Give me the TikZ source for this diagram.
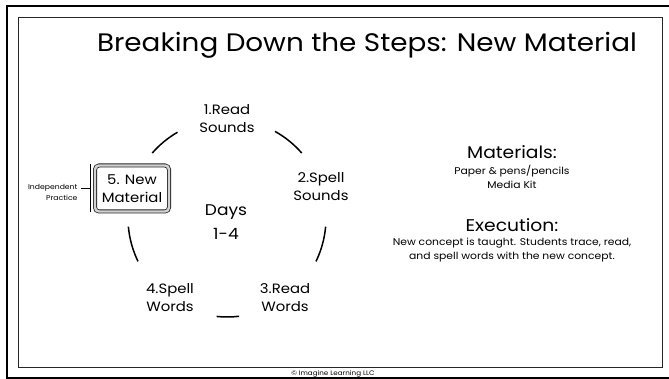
\documentclass[tikz,border=0pt]{standalone}
\usepackage{fontspec}
\setmainfont[FakeStretch=1.1]{Poppins}
\usepackage{xcolor}
\usepackage{tikz}
\usetikzlibrary{calc}

\begin{document}
\begin{tikzpicture}
	[x=1pt, y=1pt,
	 steplabel/.style={align=center, font=\fontsize{13.5}{18}\selectfont},
	 cyclearc/.style={line width=1.5pt},
	 stepbox/.style={draw=black!85, line width=0.8pt, double=gray!35, double distance=2.4pt,
		rounded corners=4pt, fill=white, minimum width=74pt, minimum height=46pt,
		align=center, font=\fontsize{13.5}{18}\selectfont},
	 headline/.style={font=\fontsize{17}{18}\selectfont},
	 smalltext/.style={align=center, font=\fontsize{9.8}{14}\selectfont}]

	\useasboundingbox (0,0) rectangle (669,379);

	% frame
	\draw[line width=2pt] (669,373) -- (7,373) -- (7,1) -- (669,1);
	\draw[line width=1pt, black!85] (18,11) rectangle (662,361);
	\node[font=\fontsize{6.5}{7}\selectfont] (copy) at (333,5) {© Imagine Learning LLC};

	% title
	\node[font=\fontsize{25.3}{28}\selectfont] (title) at (367,334) {Breaking Down the Steps: New Material};

	% cycle
	\coordinate (hub) at (227,161);
	\node[steplabel] (s1) at (227,260) {1.Read\\Sounds};
	\node[steplabel] (s2) at (321,192) {2.Spell\\Sounds};
	\node[steplabel] (s3) at (285,81) {3.Read\\Words};
	\node[steplabel] (s4) at (170,81) {4.Spell\\Words};
	\node[stepbox] (s5) at (132,190.5) {5. New\\Material};
	\node[align=center, font=\fontsize{15.5}{24}\selectfont] (days) at (226,157) {Days\\1-4};

	\foreach \s/\e in {120/139, 41/61, -26/-5, 264/277, 185/206}
		\draw[cyclearc] (hub) ++(\s:99) arc[start angle=\s, end angle=\e, radius=99];

	% bracket
	\draw[line width=1pt] ([xshift=-4pt]s5.north west) ++(0,1) coordinate (bt) -- ([xshift=-4pt]s5.south west) ++(0,-1) coordinate (bb);
	\coordinate (bm) at ($(bt)!0.5!(bb)$);
	\node[align=right, anchor=east, font=\fontsize{7}{11}\selectfont] (indep) at (81,187) {Independent\\Practice};
	\draw[line width=1pt] (indep.east |- bm) -- (bm);

	% materials
	\node[headline] (mat) at (512,227) {Materials:};
	\node[smalltext] (matlist) at (512,202) {Paper \& pens/pencils\\Media Kit};
	\node[headline] (exec) at (512,154) {Execution:};
	\node[smalltext] (exectext) at (512,129) {New concept is taught. Students trace, read,\\and spell words with the new concept.};

\end{tikzpicture}
\end{document}
